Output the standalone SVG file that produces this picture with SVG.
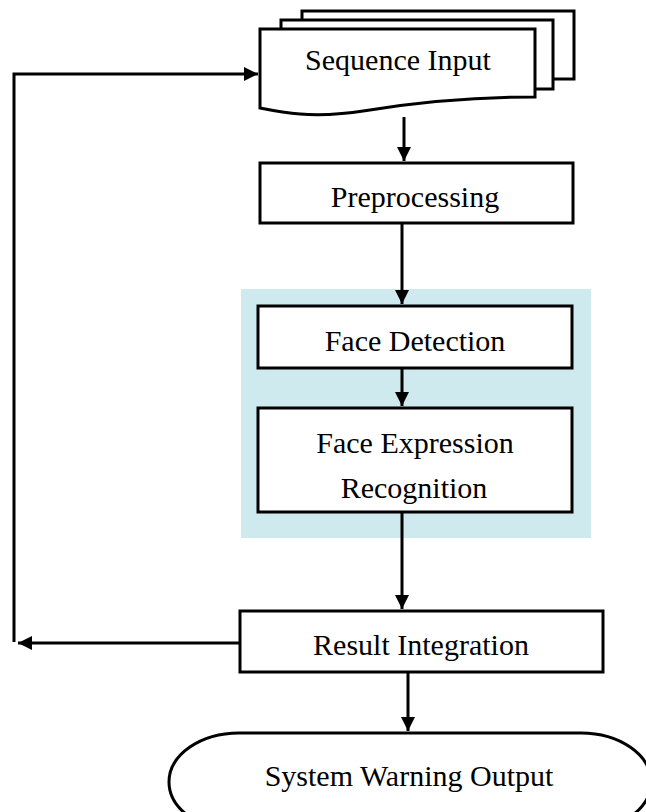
<svg xmlns="http://www.w3.org/2000/svg" width="646" height="812" viewBox="0 0 646 812">
<style>
.box{fill:#ffffff;stroke:#000000;stroke-width:3}
.lbl{font-family:"Liberation Serif","Times New Roman",serif;font-size:30px;fill:#000000;text-anchor:middle}
.con{fill:none;stroke:#000000;stroke-width:3}
</style>
<defs>
<marker id="ah" markerUnits="userSpaceOnUse" markerWidth="16" markerHeight="16" refX="14" refY="7" orient="auto">
<path d="M0,0 L14,7 L0,14 Z" fill="#000000"/>
</marker>
</defs>
<rect width="646" height="812" fill="#ffffff"/>
<rect id="panel" x="241" y="289" width="350" height="249" fill="#cfeaee"/>
<g id="sequence-input">
<rect class="box" x="302" y="11" width="272" height="68"/>
<rect class="box" x="281" y="20" width="272" height="69"/>
<path class="box" d="M260,29 H535 V97 C480,97 420,102 370,110 C345,114 320,116 300,114 C285,113 270,110 260,108 Z"/>
<text class="lbl" x="398" y="70">Sequence Input</text>
</g>
<g id="preprocessing">
<rect class="box" x="260" y="163" width="313" height="60"/>
<text class="lbl" x="415" y="207">Preprocessing</text>
</g>
<g id="face-detection">
<rect class="box" x="258" y="306" width="314" height="62"/>
<text class="lbl" x="415" y="351">Face Detection</text>
</g>
<g id="face-expression-recognition">
<rect class="box" x="258" y="408" width="314" height="104"/>
<text class="lbl" x="415" y="453">Face Expression</text>
<text class="lbl" x="414" y="498">Recognition</text>
</g>
<g id="result-integration">
<rect class="box" x="240" y="611" width="363" height="61"/>
<text class="lbl" x="421" y="655">Result Integration</text>
</g>
<g id="system-warning-output">
<rect class="box" x="169" y="733" width="482" height="98" rx="70" ry="49"/>
<text class="lbl" x="409" y="786">System Warning Output</text>
</g>
<g id="connectors">
<path class="con" d="M404,117 V161" marker-end="url(#ah)"/>
<path class="con" d="M402,223 V304" marker-end="url(#ah)"/>
<path class="con" d="M402,368 V406" marker-end="url(#ah)"/>
<path class="con" d="M402,512 V609" marker-end="url(#ah)"/>
<path class="con" d="M408,672 V731" marker-end="url(#ah)"/>
<path class="con" d="M240,643 H18" marker-end="url(#ah)"/>
<path class="con" d="M14,642 V74 H258" marker-end="url(#ah)"/>
</g>
</svg>
